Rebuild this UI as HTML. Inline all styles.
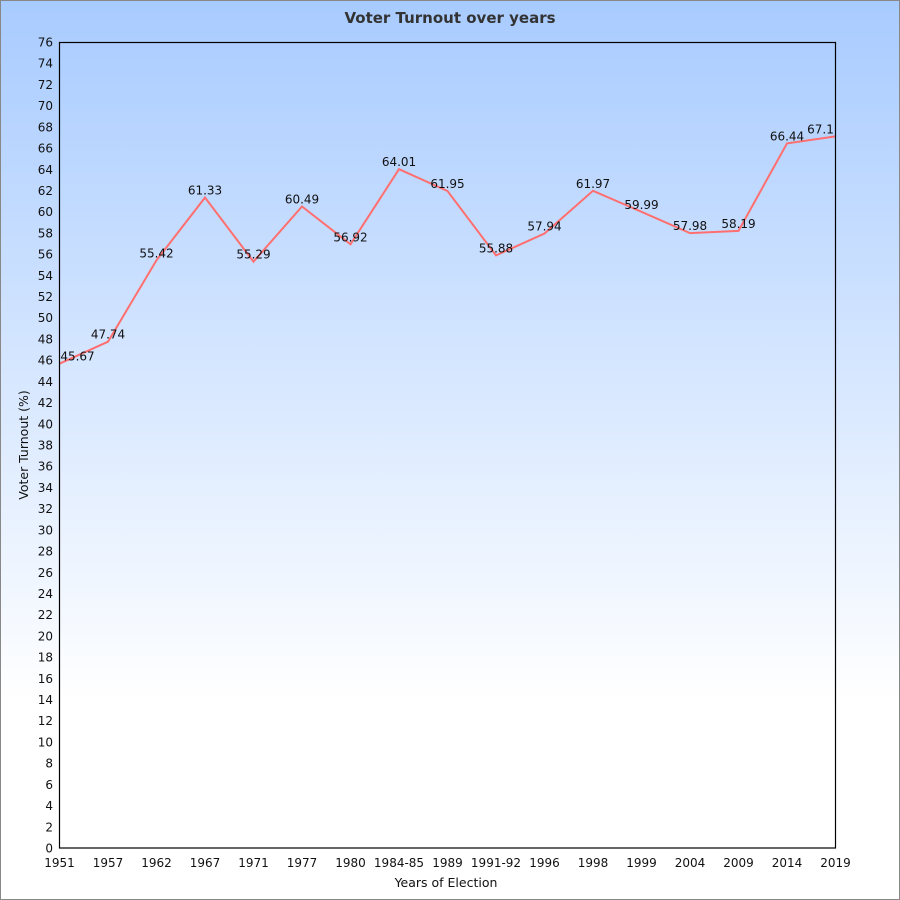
<!DOCTYPE html>
<html><head><meta charset="utf-8"><style>
html,body{margin:0;padding:0;width:900px;height:900px;overflow:hidden}
svg{display:block;font-family:"DejaVu Sans","Liberation Sans",sans-serif}
</style></head><body>
<svg id="s" width="900" height="900" xmlns="http://www.w3.org/2000/svg">
<defs><linearGradient id="g" x1="0" y1="0" x2="0" y2="1">
<stop offset="0" stop-color="#a8cbff"/><stop offset="0.78" stop-color="#ffffff"/><stop offset="1" stop-color="#ffffff"/></linearGradient></defs>
<rect x="0.5" y="0.5" width="899" height="899" fill="url(#g)" stroke="#888" stroke-width="1"/>
<text x="450" y="23" text-anchor="middle" font-size="15" font-weight="bold" fill="#333">Voter Turnout over years</text>
<g id="ax"></g>
<rect x="59.5" y="42.5" width="776" height="805.5" fill="none" stroke="#000" stroke-width="1.2"/>
<text x="446" y="887" text-anchor="middle" font-size="12.5" fill="#111">Years of Election</text>
<text transform="translate(28,445) rotate(-90)" text-anchor="middle" font-size="12.5" fill="#111">Voter Turnout (%)</text>
</svg>
<script>
var ns="http://www.w3.org/2000/svg",ax=document.getElementById("ax");
function el(t,a,txt){var e=document.createElementNS(ns,t);for(var k in a)e.setAttribute(k,a[k]);if(txt!=null)e.textContent=txt;ax.appendChild(e);return e;}
function Y(v){return 848-v*806/76;}
function X(i){return 59.5+i*48.5;}
for(var v=0;v<=76;v+=2){el("text",{x:53,y:Y(v)+4.5,"text-anchor":"end","font-size":12,fill:"#111"},v);}
var yrs=["1951","1957","1962","1967","1971","1977","1980","1984-85","1989","1991-92","1996","1998","1999","2004","2009","2014","2019"];
var vals=[45.67,47.74,55.42,61.33,55.29,60.49,56.92,64.01,61.95,55.88,57.94,61.97,59.99,57.98,58.19,66.44,67.1];
var pts=[];
for(var i=0;i<yrs.length;i++){
el("text",{x:X(i),y:867,"text-anchor":"middle","font-size":12,fill:"#111"},yrs[i]);
pts.push(X(i)+","+Y(vals[i]));}
el("polyline",{points:pts.join(" "),fill:"none",stroke:"#ff6f6f","stroke-width":2});
for(var i=0;i<vals.length;i++){
var x=X(i),a="middle";
if(i==0){x=X(i)+18;} if(i==vals.length-1){x=X(i)-15;}
el("text",{x:x,y:Y(vals[i])-3,"text-anchor":a,"font-size":12,fill:"#111"},String(vals[i]));}
</script>
</body></html>
